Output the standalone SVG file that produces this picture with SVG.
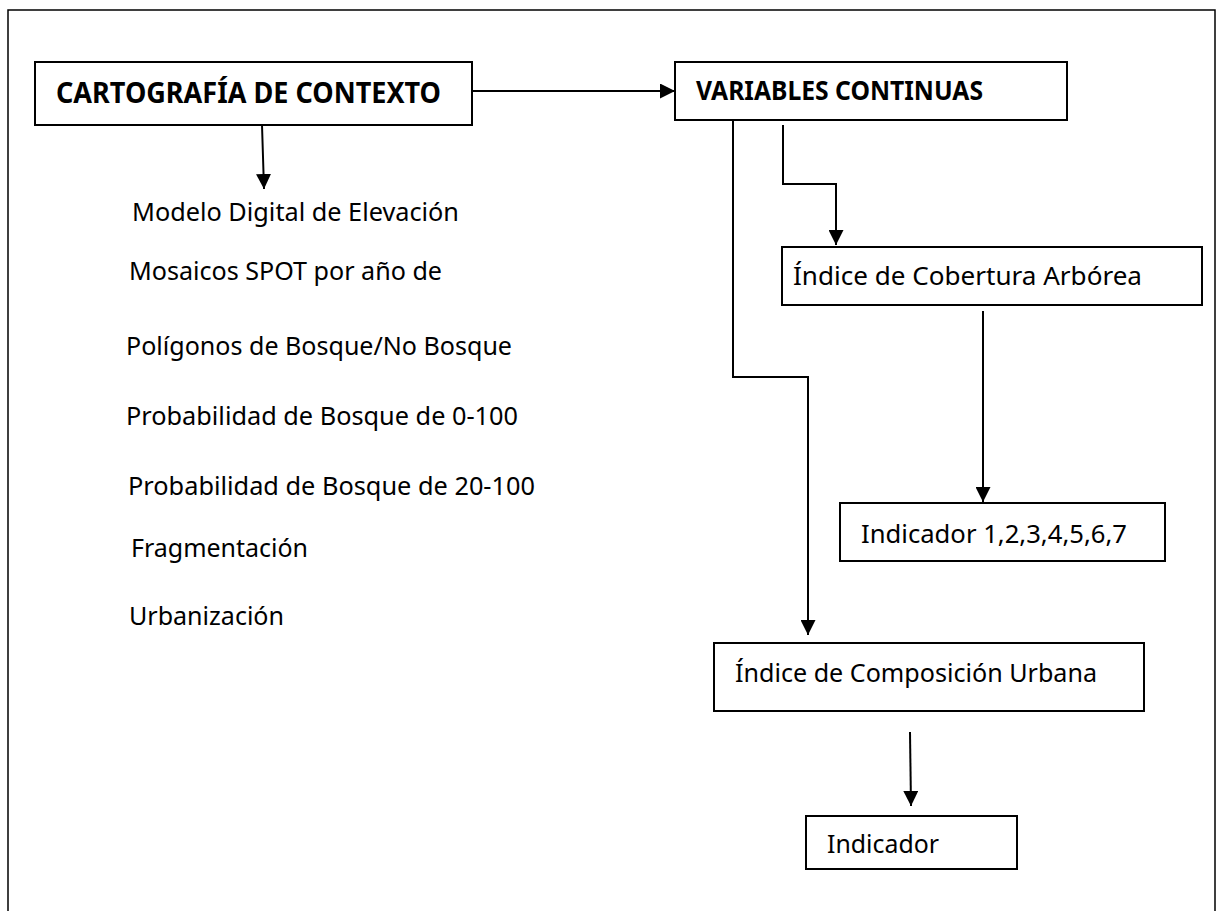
<svg xmlns="http://www.w3.org/2000/svg" width="1219" height="911" viewBox="0 0 1219 911">
<style>
.box{fill:#fff;stroke:#000;stroke-width:2}
.frame{fill:none;stroke:#000;stroke-width:1.5}
.conn{fill:none;stroke:#000;stroke-width:2}
.t{font-family:"Noto Sans","Open Sans","Liberation Sans",sans-serif;font-size:25px;fill:#000}
.b{font-family:"Noto Sans","Open Sans","Liberation Sans",sans-serif;font-weight:bold;fill:#000}
</style>
<defs>
<marker id="ah" markerUnits="userSpaceOnUse" markerWidth="15" markerHeight="15" refX="15" refY="7.5" orient="auto">
<path d="M0,0 L15,7.5 L0,15 Z" fill="#000"/>
</marker>
</defs>
<rect width="1219" height="911" fill="#fff"/>
<path class="frame" d="M8,911 V10 H1215 V911"/>
<g id="connectors">
<line class="conn" x1="472" y1="91" x2="675" y2="91" marker-end="url(#ah)"/>
<line class="conn" x1="262" y1="125" x2="264" y2="189" marker-end="url(#ah)"/>
<polyline class="conn" points="783,125 783,184 836,184 836,245" marker-end="url(#ah)"/>
<polyline class="conn" points="733,120 733,377 808,377 808,635" marker-end="url(#ah)"/>
<line class="conn" x1="983" y1="311" x2="983" y2="502" marker-end="url(#ah)"/>
<line class="conn" x1="910" y1="732" x2="911" y2="806" marker-end="url(#ah)"/>
</g>
<g id="cartografia">
<rect class="box" x="35" y="62" width="437" height="63"/>
<text class="b" x="56" y="103" font-size="28" textLength="385" lengthAdjust="spacingAndGlyphs">CARTOGRAFÍA DE CONTEXTO</text>
</g>
<g id="lista">
<text class="t" x="132" y="221" textLength="327" lengthAdjust="spacingAndGlyphs">Modelo Digital de Elevación</text>
<text class="t" x="129" y="280" textLength="313" lengthAdjust="spacingAndGlyphs">Mosaicos SPOT por año de</text>
<text class="t" x="126" y="355" textLength="386" lengthAdjust="spacingAndGlyphs">Polígonos de Bosque/No Bosque</text>
<text class="t" x="126" y="425" textLength="392" lengthAdjust="spacingAndGlyphs">Probabilidad de Bosque de 0-100</text>
<text class="t" x="128" y="495" textLength="407" lengthAdjust="spacingAndGlyphs">Probabilidad de Bosque de 20-100</text>
<text class="t" x="131" y="557" textLength="177" lengthAdjust="spacingAndGlyphs">Fragmentación</text>
<text class="t" x="129" y="625" textLength="155" lengthAdjust="spacingAndGlyphs">Urbanización</text>
</g>
<g id="variables">
<rect class="box" x="675" y="62" width="392" height="58"/>
<text class="b" x="696" y="100" font-size="26" textLength="287" lengthAdjust="spacingAndGlyphs">VARIABLES CONTINUAS</text>
</g>
<g id="cobertura">
<rect class="box" x="782" y="247" width="420" height="58"/>
<text class="t" x="793" y="285" textLength="349" lengthAdjust="spacingAndGlyphs">Índice de Cobertura Arbórea</text>
</g>
<g id="indicador17">
<rect class="box" x="840" y="503" width="325" height="58"/>
<text class="t" x="861" y="543" textLength="266" lengthAdjust="spacingAndGlyphs">Indicador 1,2,3,4,5,6,7</text>
</g>
<g id="composicion">
<rect class="box" x="714" y="643" width="430" height="68"/>
<text class="t" x="735" y="682" textLength="362" lengthAdjust="spacingAndGlyphs">Índice de Composición Urbana</text>
</g>
<g id="indicador">
<rect class="box" x="806" y="816" width="211" height="53"/>
<text class="t" x="827" y="853" textLength="112" lengthAdjust="spacingAndGlyphs">Indicador</text>
</g>
</svg>
